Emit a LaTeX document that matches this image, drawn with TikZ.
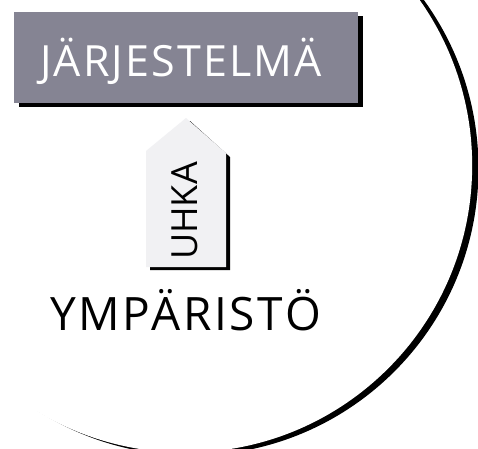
\documentclass[tikz,border=0pt]{standalone}
\usepackage{fontspec}
\setmainfont{Open Sans}
\newfontfamily\sysFont{Open Sans}[LetterSpace=5]
\newfontfamily\envFont{Open Sans}[LetterSpace=6]
\definecolor{boxgray}{HTML}{858493}
\definecolor{tagfill}{HTML}{F1F1F3}
\tikzset{
  shadowfill/.style={fill=black},
  label/.style={inner sep=0pt, anchor=base west},
}
\begin{document}
\begin{tikzpicture}[x=1pt,y=-1pt]
\useasboundingbox (0,0) rectangle (478,448);
% crescent arc
\fill[black] (191.5,168.5) circle[radius=287];
\fill[white] (185.16,165.54) circle[radius=287];
% system box
\fill[shadowfill] (19,16) rectangle (363,107);
\fill[boxgray] (14,12) rectangle (358,103);
\node[label, text=white, font=\sysFont\fontsize{43pt}{43pt}\selectfont] (sys) at (40,76.5) {JÄRJESTELMÄ};
% threat tag
\fill[shadowfill] (150,155) -- (190,121) -- (230,157) -- (230,270) -- (150,270) -- cycle;
\fill[tagfill] (146,151) -- (186,118) -- (226,153) -- (226,267) -- (146,267) -- cycle;
\node[label, rotate=90, font=\fontsize{36pt}{36pt}\selectfont] (threat) at (197.5,260) {UHKA};
% environment
\node[label, font=\envFont\fontsize{46pt}{46pt}\selectfont] (env) at (50,330) {YMPÄRISTÖ};
\end{tikzpicture}
\end{document}
